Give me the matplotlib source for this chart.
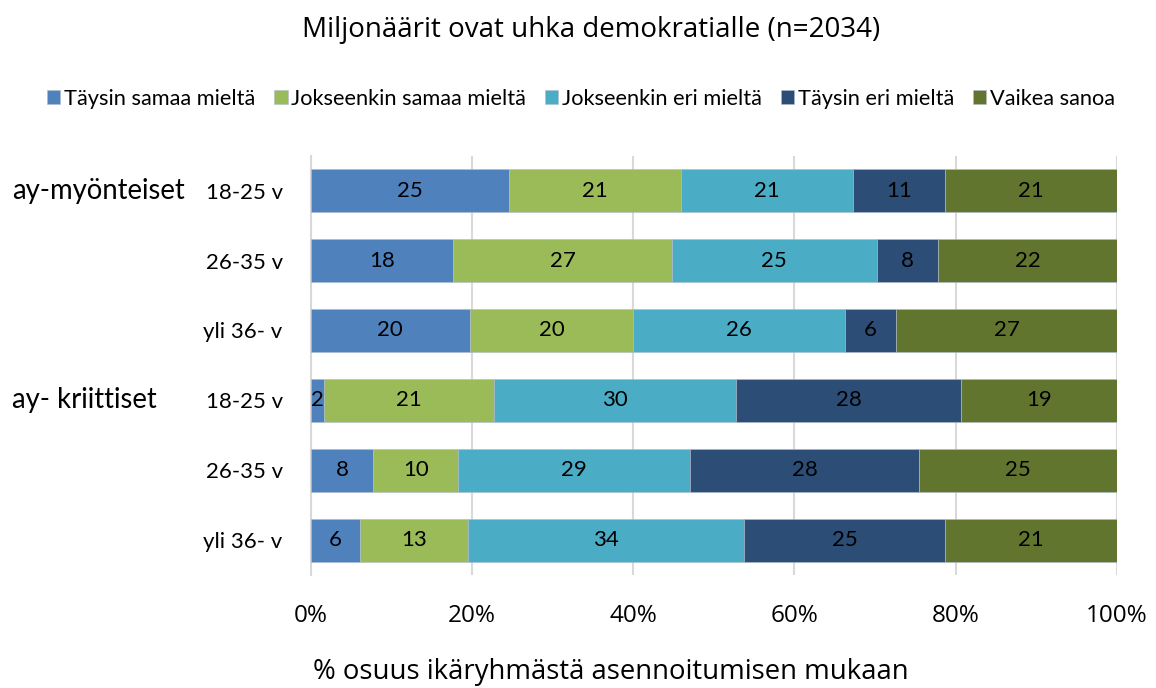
import matplotlib
matplotlib.use("Agg")
import numpy as np
from matplotlib import pyplot as plt

# rows top to bottom
groups = ["ay-myönteiset", "ay- kriittiset"]
ages = ["18-25 v", "26-35 v", "yli 36- v", "18-25 v", "26-35 v", "yli 36- v"]
series = ["Täysin samaa mieltä", "Jokseenkin samaa mieltä", "Jokseenkin eri mieltä",
          "Täysin eri mieltä", "Vaikea sanoa"]

# percent share per row (top to bottom), one list per answer
taysin_samaa = [24.6, 17.7, 19.8, 1.7, 7.8, 6.1]
jokseenkin_samaa = [21.3, 27.1, 20.2, 21.1, 10.5, 13.4]
jokseenkin_eri = [21.4, 25.4, 26.3, 29.9, 28.8, 34.3]
taysin_eri = [11.4, 7.6, 6.3, 28.0, 28.3, 24.9]
vaikea = [21.3, 22.2, 27.4, 19.3, 24.6, 21.3]

colors = ["#4F81BD", "#9BBB59", "#4BACC6", "#2C4D75", "#62752F"]

plt.rcParams['font.family'] = ['Lato', 'DejaVu Sans']
seg_font = ['Open Sans', 'DejaVu Sans']  # title, x ticks and x label

fig = plt.figure(figsize=(11.56, 6.88), dpi=100)
ax = fig.add_axes([0.2686, 0.164, 0.6977, 0.6097])

raw = [taysin_samaa, jokseenkin_samaa, jokseenkin_eri, taysin_eri, vaikea]
data = np.array(raw)
data = data / data.sum(axis=0) * 100
ypos = np.arange(len(ages))
left = np.zeros(len(ages))
for i, name in enumerate(series):
    bars = ax.barh(ypos, data[i], left=left, height=0.62, color=colors[i], label=name,
                   edgecolor="#b0bccd", linewidth=0.4, zorder=3)
    ax.bar_label(bars, labels=["%.0f" % v for v in raw[i]],
                 label_type="center", fontsize=16, color="black")
    left += data[i]

ax.set_ylim(len(ages) - 0.5, -0.5)
ax.set_xlim(0, 100)
ax.set_xticks([0, 20, 40, 60, 80, 100])
ax.set_xticklabels(["%d%%" % t for t in [0, 20, 40, 60, 80, 100]], fontsize=17.5,
                   family=seg_font)
ax.set_yticks(ypos)
ax.set_yticklabels(ages, fontsize=16)
ax.tick_params(axis="both", length=0)
ax.tick_params(axis="y", pad=20)
ax.tick_params(axis="x", pad=21)
ax.grid(axis="x", color="#d9d9d9", linewidth=1.5, zorder=0)
for s in ["top", "right", "bottom"]:
    ax.spines[s].set_visible(False)
ax.spines["left"].set_color("#d9d9d9")
ax.spines["left"].set_linewidth(1.5)

fig.text(611 / 1156, 1 - 672 / 688, "% osuus ikäryhmästä asennoitumisen mukaan",
         fontsize=19.8, ha="center", va="center", family=seg_font)

# group labels at left
fig.text(12 / 1156, 1 - 191 / 688, groups[0], fontsize=19.8, va="center", ha="left")
fig.text(12 / 1156, 1 - 400 / 688, groups[1], fontsize=19.8, va="center", ha="left")

fig.text(591 / 1156, 1 - 30 / 688, "Miljonäärit ovat uhka demokratialle (n=2034)",
         fontsize=20, ha="center", va="center", family=seg_font)

fig.legend(loc="center", bbox_to_anchor=(581 / 1156, 1 - 99 / 688), ncol=5, frameon=False,
           fontsize=15.7, handlelength=0.6, handleheight=0.6, handletextpad=0.15,
           columnspacing=0.9)

fig.savefig("out.png", dpi=100)
